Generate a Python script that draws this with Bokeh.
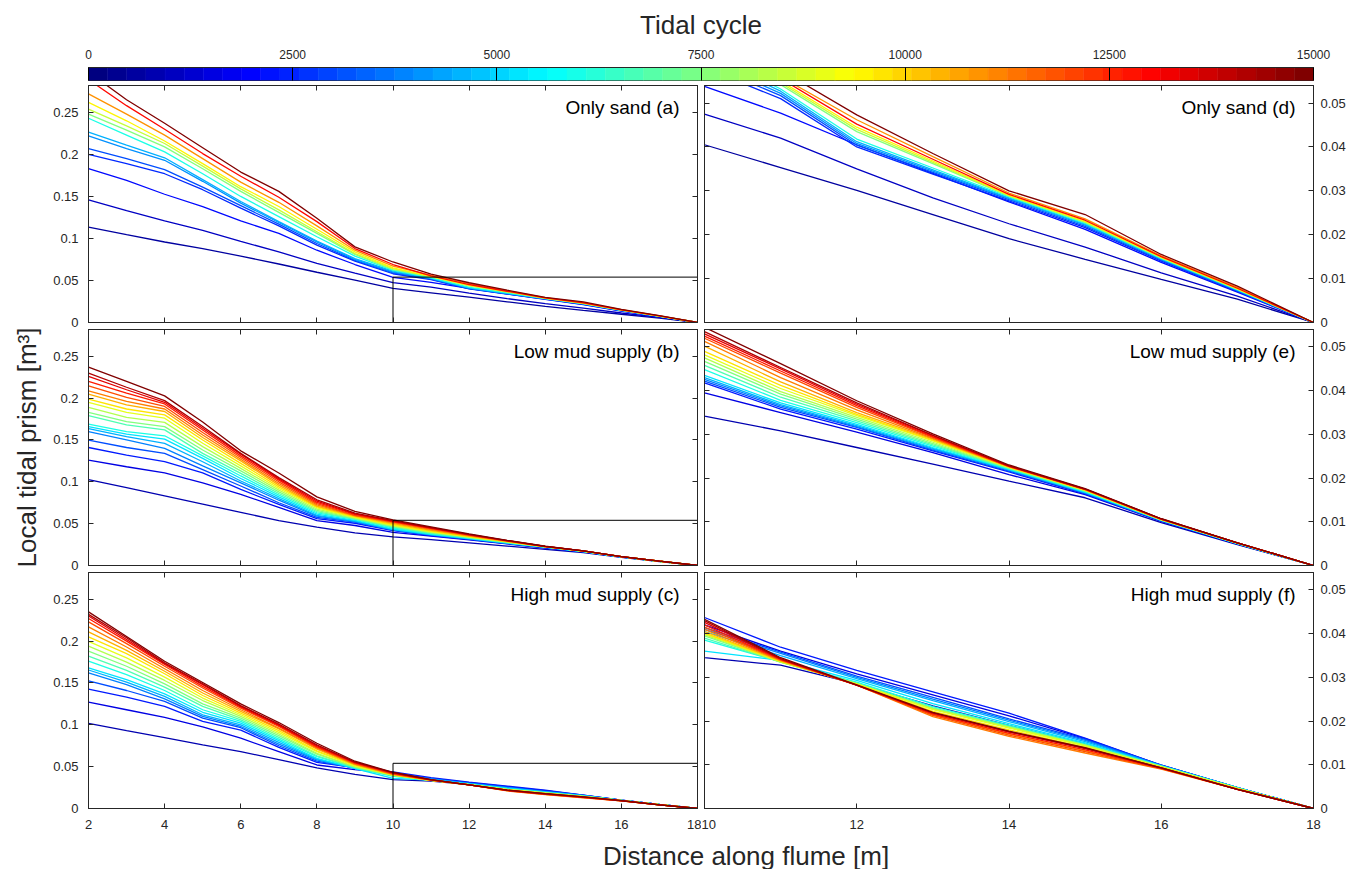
from bokeh.embed import file_html
from bokeh.layouts import column, row
from bokeh.models import (ColumnDataSource, CustomJSTickFormatter, FixedTicker,
                          Label, LinearAxis, Range1d)
from bokeh.plotting import figure
from bokeh.resources import INLINE
from bokeh.transform import linear_cmap

FONT = "Liberation Sans"
INK = "#262626"

# distance along the flume [m], one entry per profile station
distance = [2, 3, 4, 5, 6, 7, 8, 9, 10, 11, 12, 13, 14, 15, 16, 17, 18]

# tidal cycle of every plotted profile
sand_cycles = [500, 1000, 2000, 2500, 3000, 4000, 4500, 6000, 7500, 8500,
               9500, 11000, 13000, 15000]
low_mud_cycles = [750, 1500, 2250, 3000, 3750, 4500, 5250, 6000, 6750, 7500,
                  8250, 9000, 9750, 10500, 11250, 12000, 12750, 13500, 14250, 15000]
high_mud_cycles = [750, 1500, 2250, 3000, 3750, 4500, 5250, 6000, 6750, 7500,
                   8250, 9000, 9750, 10500, 11250, 12000, 12750, 13500, 14250, 15000]

# local tidal prism [m3]: one row per distance, one value per cycle
sand_prism = [
    [.1135, .146, .183, .200, .207, .222, .2265, .243, .248, .254, .262, .272, .289, .298],
    [.1045, .133, .169, .189, .195, .207, .211, .223, .229, .234, .240, .248, .258, .265],
    [.0958, .121, .1526, .177, .182, .193, .196, .203, .209, .213, .216, .223, .230, .237],
    [.0880, .1095, .138, .158, .161, .168, .170, .177, .183, .186, .189, .195, .201, .208],
    [.0790, .0966, .121, .136, .139, .142, .144, .150, .156, .159, .1616, .167, .174, .179],
    [.0696, .0840, .106, .115, .117, .119, .120, .126, .131, .134, .138, .143, .149, .156],
    [.0598, .0704, .086, .092, .094, .096, .097, .102, .106, .108, .111, .115, .120, .124],
    [.0505, .0587, .069, .073, .074, .075, .076, .079, .081, .082, .084, .086, .088, .090],
    [.0405, .0475, .0538, .058, .059, .060, .061, .062, .063, .064, .065, .067, .069, .072],
    [.0353, .0420, .0477, .0510, .0517, .0522, .0527, .0532, .0542, .0546, .0550, .0560, .0556, .0575],
    [.0301, .0350, .0405, .0400, .0404, .0408, .0412, .0418, .0435, .0440, .0445, .0462, .0452, .0473],
    [.0246, .0284, .0340, .0338, .0342, .0345, .0348, .0352, .0362, .0365, .0368, .0378, .0372, .0385],
    [.0191, .0225, .0275, .0277, .0280, .0282, .0284, .0286, .0288, .0289, .0290, .0295, .0292, .0300],
    [.0144, .0172, .0212, .0216, .0219, .0222, .0224, .0226, .0228, .0229, .0231, .0236, .0233, .0246],
    [.0098, .0113, .0137, .0140, .0142, .0144, .0145, .0146, .0147, .0148, .0149, .0152, .0150, .0155],
    [.0053, .0060, .0069, .0071, .0072, .0073, .0074, .0075, .0076, .0076, .0077, .0080, .0078, .0083],
    [0, 0, 0, 0, 0, 0, 0, 0, 0, 0, 0, 0, 0, 0],
]

low_mud_prism = [
    [.1027, .126, .141, .1498, .160, .1635, .166, .169, .179, .183, .189, .195, .1988, .2047, .2086, .2145, .220, .226, .230, .237],
    [.093, .118, .132, .141, .150, .154, .157, .160, .168, .172, .177, .183, .187, .192, .196, .201, .206, .210, .213, .220],
    [.0831, .1106, .124, .134, .140, .146, .151, .155, .162, .166, .171, .176, .180, .184, .187, .190, .193, .195, .197, .2027],
    [.0733, .0988, .1106, .1145, .119, .124, .128, .131, .134, .138, .142, .146, .150, .153, .156, .159, .162, .164, .166, .1714],
    [.0635, .085, .091, .095, .0988, .101, .104, .107, .110, .113, .116, .119, .122, .125, .127, .129, .131, .133, .134, .137],
    [.0537, .0694, .073, .075, .078, .080, .082, .084, .086, .088, .090, .092, .094, .096, .098, .100, .102, .1035, .105, .1106],
    [.0459, .0537, .056, .0576, .059, .060, .0615, .063, .0645, .066, .0675, .069, .070, .071, .0725, .074, .0755, .077, .0785, .082],
    [.039, .0478, .0505, .0518, .0525, .053, .054, .055, .0555, .056, .057, .0575, .058, .059, .0595, .060, .061, .0617, .0627, .0647],
    [.0342, .0395, .0418, .0422, .0426, .043, .0435, .0448, .0458, .0467, .0475, .0482, .049, .0502, .0513, .052, .0525, .053, .0535, .0545],
    [.0308, .0350, .0358, .0362, .0365, .0368, .0372, .0378, .0385, .0392, .0398, .0405, .0412, .0420, .0430, .0440, .0445, .0450, .0453, .0462],
    [.0270, .0305, .0312, .0316, .0318, .0320, .0323, .0327, .0331, .0335, .0339, .0343, .0346, .0350, .0356, .0362, .0366, .0369, .0372, .0377],
    [.0232, .0258, .0262, .0264, .0266, .0268, .0270, .0273, .0276, .0279, .0282, .0285, .0287, .0289, .0291, .0293, .0295, .0297, .0298, .0301],
    [.0193, .0208, .0214, .0216, .0218, .0219, .0220, .0221, .0222, .0223, .0224, .0225, .0225, .0226, .0226, .0227, .0227, .0228, .0228, .0230],
    [.0155, .0162, .0164, .0165, .0166, .0167, .0168, .0169, .0170, .0171, .0172, .0172, .0173, .0173, .0174, .0174, .0174, .0175, .0175, .0176],
    [.0098, .0101, .0102, .0102, .0103, .0103, .0104, .0104, .0104, .0105, .0105, .0105, .0105, .0106, .0106, .0106, .0106, .0106, .0107, .0107],
    [.0048, .0049, .0050, .0050, .0050, .0050, .0050, .0051, .0051, .0051, .0051, .0051, .0051, .0052, .0052, .0052, .0052, .0052, .0052, .0052],
    [0, 0, 0, 0, 0, 0, 0, 0, 0, 0, 0, 0, 0, 0, 0, 0, 0, 0, 0, 0],
]

high_mud_prism = [
    [.1016, .127, .1427, .1525, .162, .1655, .168, .176, .182, .188, .194, .1996, .205, .211, .217, .223, .227, .230, .232, .235],
    [.093, .118, .133, .141, .148, .151, .154, .160, .165, .170, .175, .180, .185, .189, .193, .197, .200, .202, .204, .2055],
    [.0847, .109, .122, .128, .131, .134, .137, .141, .145, .149, .153, .157, .161, .164, .167, .170, .172, .173, .174, .176],
    [.076, .0976, .104, .108, .110, .112, .115, .118, .122, .125, .129, .132, .135, .138, .141, .144, .146, .148, .149, .1506],
    [.068, .084, .0937, .0965, .098, .100, .102, .104, .106, .108, .110, .112, .114, .116, .118, .120, .121, .122, .123, .125],
    [.0584, .068, .073, .075, .077, .079, .081, .083, .085, .087, .089, .091, .093, .095, .096, .098, .099, .100, .101, .1027],
    [.0486, .052, .055, .0565, .058, .059, .060, .062, .063, .065, .066, .068, .069, .071, .072, .073, .074, .075, .076, .078],
    [.0408, .0465, .0490, .0485, .0482, .0480, .0478, .0485, .049, .0495, .050, .051, .052, .0525, .053, .054, .0545, .055, .0555, .0565],
    [.0345, .0420, .0437, .0414, .0410, .0405, .0360, .0385, .0390, .0395, .0398, .0400, .0402, .0405, .0410, .0415, .0420, .0426, .0430, .0433],
    [.0328, .0360, .0369, .0358, .0355, .0350, .0339, .0336, .0335, .0335, .0335, .0336, .0337, .0338, .0339, .0340, .0341, .0342, .0343, .0345],
    [.0285, .0308, .0316, .0303, .0300, .0297, .0293, .0289, .0287, .0286, .0285, .0285, .0284, .0283, .0282, .0282, .0282, .0282, .0282, .0283],
    [.0235, .0260, .0267, .0254, .0250, .0247, .0240, .0233, .0230, .0229, .0228, .0226, .0222, .0215, .0210, .0213, .0216, .0218, .0219, .0220],
    [.0190, .0212, .0218, .0205, .0202, .0199, .0194, .0190, .0188, .0187, .0186, .0184, .0180, .0170, .0165, .0168, .0172, .0175, .0176, .0177],
    [.0147, .0160, .0161, .0158, .0156, .0153, .0150, .0147, .0146, .0145, .0145, .0143, .0140, .0132, .0127, .0130, .0134, .0137, .0138, .0139],
    [.0098, .0099, .0099, .0099, .0098, .0098, .0097, .0097, .0097, .0096, .0096, .0095, .0094, .0092, .0090, .0091, .0092, .0093, .0093, .0093],
    [.0047, .0048, .0048, .0048, .0048, .0048, .0047, .0047, .0047, .0046, .0046, .0046, .0045, .0045, .0044, .0044, .0044, .0044, .0044, .0044],
    [0, 0, 0, 0, 0, 0, 0, 0, 0, 0, 0, 0, 0, 0, 0, 0, 0, 0, 0, 0],
]

panel_names = ["Only sand (a)", "Low mud supply (b)", "High mud supply (c)",
               "Only sand (d)", "Low mud supply (e)", "High mud supply (f)"]

full_x, full_y = (2, 18), (0, 0.282)
zoom_x, zoom_y = (10, 18), (0, 0.054)
full_x_ticks = [2, 4, 6, 8, 10, 12, 14, 16, 18]
full_y_ticks = [0, 0.05, 0.1, 0.15, 0.2, 0.25]
zoom_x_ticks = [10, 12, 14, 16, 18]
zoom_y_ticks = [0, 0.01, 0.02, 0.03, 0.04, 0.05]
cycle_lim = (0, 15000)
cycle_ticks = [0, 2500, 5000, 7500, 10000, 12500, 15000]

LEFT_B = 88
FRAME_W = 609


def jet(n):
    cols = []
    for i in range(n):
        v = i / (n - 1)
        rgb = [min(max(1.5 - abs(4 * v - k), 0.0), 1.0) for k in (3, 2, 1)]
        cols.append("#%02x%02x%02x" % tuple(round(c * 255) for c in rgb))
    return cols


JET = jet(256)
FMT = CustomJSTickFormatter(code="return String(Number(tick.toFixed(4)));")


def style_axis(axis, ticks, labels, standoff=0):
    axis.ticker = FixedTicker(ticks=ticks)
    axis.major_tick_in = 5
    axis.major_tick_out = 0
    axis.minor_tick_line_color = None
    axis.axis_line_color = INK
    axis.major_tick_line_color = INK
    if labels:
        axis.formatter = FMT
        axis.major_label_standoff = standoff
        axis.major_label_text_font = FONT
        axis.major_label_text_font_size = "13px"
        axis.major_label_text_color = INK
    else:
        # tick marks only, no labels drawn
        axis.major_label_text_color = None
        axis.major_label_text_font_size = "0px"
        axis.major_label_standoff = 0


def panel(prism, cycles, name, zoomed, frame_h, bottom_b, bottom_labels,
          ylabel=None):
    xr, yr = (zoom_x, zoom_y) if zoomed else (full_x, full_y)
    xt, yt = (zoom_x_ticks, zoom_y_ticks) if zoomed else (full_x_ticks, full_y_ticks)
    side = "right" if zoomed else "left"
    p = figure(frame_width=FRAME_W, frame_height=frame_h,
               x_range=Range1d(*xr), y_range=Range1d(*yr),
               y_axis_location=side, output_backend="svg", toolbar_location=None,
               min_border_left=3 if zoomed else LEFT_B,
               min_border_right=32 if zoomed else 4,
               min_border_top=0, min_border_bottom=bottom_b)
    p.grid.visible = False
    p.outline_line_color = INK
    p.background_fill_color = "white"

    style_axis(p.xaxis[0], xt, bottom_labels, 11)
    style_axis(p.yaxis[0], yt, True, 7 if zoomed else 10)
    top_ax = LinearAxis()
    style_axis(top_ax, xt, False)
    p.add_layout(top_ax, "above")
    other_ax = LinearAxis()
    style_axis(other_ax, yt, False)
    p.add_layout(other_ax, "left" if zoomed else "right")

    if ylabel:
        p.yaxis[0].axis_label = ylabel
        p.yaxis[0].axis_label_text_font = FONT
        p.yaxis[0].axis_label_text_font_size = "26px"
        p.yaxis[0].axis_label_text_font_style = "normal"
        p.yaxis[0].axis_label_text_color = INK
        p.yaxis[0].axis_label_standoff = 8

    n = len(cycles)
    src = ColumnDataSource(dict(
        xs=[distance] * n,
        ys=[[station[i] for station in prism] for i in range(n)],
        cycle=cycles,
    ))
    p.multi_line("xs", "ys", source=src, line_width=1.3,
                 line_color=linear_cmap("cycle", JET, *cycle_lim))
    if not zoomed:
        # box marking the region shown enlarged on the right
        p.quad(left=zoom_x[0], right=zoom_x[1], bottom=zoom_y[0], top=zoom_y[1],
               fill_color=None, line_color="black", line_width=1)
    p.add_layout(Label(x=xr[1], y=yr[1], x_offset=-18, y_offset=-22, text=name,
                       text_align="right", text_baseline="middle",
                       text_font=FONT, text_font_size="19px", text_color="black"))
    return p


# colour bar on top
cb = figure(frame_width=2 * FRAME_W + 7, frame_height=13, x_range=Range1d(*cycle_lim),
            y_range=Range1d(0, 1), x_axis_location="above", y_axis_type=None,
            output_backend="svg", toolbar_location=None,
            min_border_left=LEFT_B, min_border_right=32, min_border_top=67,
            min_border_bottom=5)
cb.grid.visible = False
cb.outline_line_color = INK
bar_cols = jet(64)
step = (cycle_lim[1] - cycle_lim[0]) / len(bar_cols)
cb.quad(left=[cycle_lim[0] + i * step for i in range(len(bar_cols))],
        right=[cycle_lim[0] + (i + 1) * step for i in range(len(bar_cols))],
        bottom=0, top=1, fill_color=bar_cols, line_color=bar_cols, line_width=0.5)
ax = cb.xaxis[0]
ax.ticker = FixedTicker(ticks=cycle_ticks)
ax.major_tick_in = 13
ax.major_tick_out = 0
ax.major_tick_line_color = "black"
ax.minor_tick_line_color = None
ax.axis_line_color = INK
ax.major_label_standoff = 9
ax.major_label_text_font = FONT
ax.major_label_text_font_size = "12px"
ax.major_label_text_color = INK
ax.axis_label = "Tidal cycle"
ax.axis_label_text_font = FONT
ax.axis_label_text_font_size = "26px"
ax.axis_label_text_font_style = "normal"
ax.axis_label_text_color = INK
ax.axis_label_standoff = 7

pa = panel(sand_prism, sand_cycles, panel_names[0], False, 237, 7, False)
pd = panel(sand_prism, sand_cycles, panel_names[3], True, 237, 7, False)
pb = panel(low_mud_prism, low_mud_cycles, panel_names[1], False, 236, 7, False,
           ylabel="Local tidal prism [m³]")
pe = panel(low_mud_prism, low_mud_cycles, panel_names[4], True, 236, 7, False)
pc = panel(high_mud_prism, high_mud_cycles, panel_names[2], False, 236, 30, True)
pf = panel(high_mud_prism, high_mud_cycles, panel_names[5], True, 236, 30, True)

# shared x label strip
total_w = LEFT_B + 2 * FRAME_W + 4 + 3 + 32
strip = figure(width=total_w, height=31, x_range=Range1d(0, total_w), y_range=Range1d(0, 31),
               x_axis_type=None, y_axis_type=None, min_border=0,
               output_backend="svg", toolbar_location=None)
strip.grid.visible = False
strip.outline_line_color = None
strip.add_layout(Label(x=722, y=14, text="Distance along flume [m]",
                       text_align="center", text_baseline="middle",
                       text_font=FONT, text_font_size="26px", text_color=INK))

layout = column(cb, row(pa, pd), row(pb, pe), row(pc, pf), strip)

open("out.html", "w").write(file_html(layout, INLINE))
